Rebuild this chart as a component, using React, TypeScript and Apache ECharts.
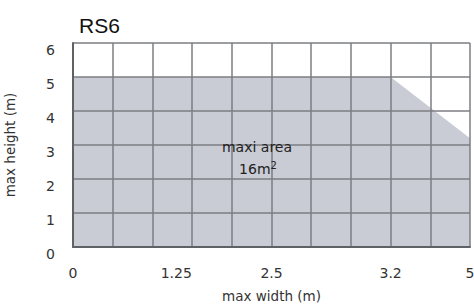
import React, { useEffect, useRef } from "react";
import * as echarts from "echarts";

const titleText = "RS6";
const yTicks = [0, 1, 2, 3, 4, 5, 6];
const xTickPositions = [0, 2.6, 5, 8, 10];
const xTickLabels = ["0", "1.25", "2.5", "3.2", "5"];
const areaX = [0, 8, 10];
const areaY = [5, 5, 3.2];
const areaLabel = "maxi area";
const areaValue = "16m";
const yName = "max height (m)";
const xName = "max width (m)";

const FONT = "DejaVu Sans, Liberation Sans, Arial, sans-serif";
const TFONT = "Liberation Sans, Arial, Helvetica, sans-serif";

export default function App() {
  const ref = useRef<HTMLDivElement>(null);
  useEffect(() => {
    if (!ref.current) return;
    const chart = echarts.init(ref.current, undefined, { renderer: "svg" });
    const labelMap: Record<string, string> = {};
    xTickPositions.forEach((p, i) => (labelMap[String(p)] = xTickLabels[i]));
    chart.setOption({
      animation: false,
      textStyle: { fontFamily: FONT },
      title: {
        text: titleText,
        left: 74,
        top: 10,
        textStyle: { fontSize: 21, fontWeight: "normal", color: "#111", fontFamily: TFONT },
      },
      grid: { left: 73, right: 4, top: 43, bottom: 59, show: false, outerBoundsMode: "none", containLabel: false },
      xAxis: {
        type: "value",
        min: 0,
        max: 10,
        interval: 1,
        z: 5,
        name: xName,
        nameLocation: "middle",
        nameGap: 42,
        nameTextStyle: { fontSize: 13.5, color: "#333", fontFamily: FONT },
        axisLine: { show: true, lineStyle: { color: "#5f6265", width: 2 } },
        axisTick: { show: false },
        axisLabel: {
          customValues: xTickPositions,
          formatter: (v: number) => labelMap[String(v)] ?? "",
          fontSize: 14,
          color: "#333",
          margin: 19,
          fontFamily: FONT,
          hideOverlap: false,
        },
        splitLine: { show: true, lineStyle: { color: "#7b7e82", width: 1.5 } },
      },
      yAxis: {
        type: "value",
        min: 0,
        max: 6,
        interval: 1,
        z: 5,
        name: yName,
        nameLocation: "middle",
        nameGap: 56,
        nameTextStyle: { fontSize: 13.5, color: "#333", fontFamily: FONT },
        axisLine: { show: true, lineStyle: { color: "#5f6265", width: 2 } },
        axisTick: { show: false },
        axisLabel: {
          fontSize: 14,
          color: "#333",
          margin: 18,
          verticalAlign: "top",
          fontFamily: FONT,
          formatter: (v: number) => (yTicks.includes(v) ? String(v) : ""),
        },
        splitLine: { show: true, lineStyle: { color: "#7b7e82", width: 1.5 } },
      },
      series: [
        {
          type: "line",
          data: areaX.map((x, i) => [x, areaY[i]]),
          symbol: "none",
          lineStyle: { width: 0 },
          areaStyle: { color: "#c9ccd4", opacity: 1 },
          z: 1,
          silent: true,
        },
      ],
      graphic: [
        {
          type: "text",
          x: 257,
          y: 147,
          z: 10,
          style: {
            text: areaLabel,
            fontSize: 14,
            fill: "#222",
            align: "center",
            verticalAlign: "middle",
            fontFamily: FONT,
          },
        },
        {
          type: "text",
          x: 258,
          y: 169,
          z: 10,
          style: {
            text: areaValue + "{sup|2}",
            fontSize: 14,
            fill: "#222",
            align: "center",
            verticalAlign: "middle",
            fontFamily: FONT,
            rich: {
              sup: { fontSize: 10, fill: "#222", verticalAlign: "top", padding: [0, 0, 8, 0], fontFamily: FONT },
            },
          },
        },
      ],
    });
    return () => chart.dispose();
  }, []);
  return (
    <div
      ref={ref}
      style={{ position: "fixed", left: 0, top: 0, width: 474, height: 306, background: "#fff" }}
    />
  );
}
